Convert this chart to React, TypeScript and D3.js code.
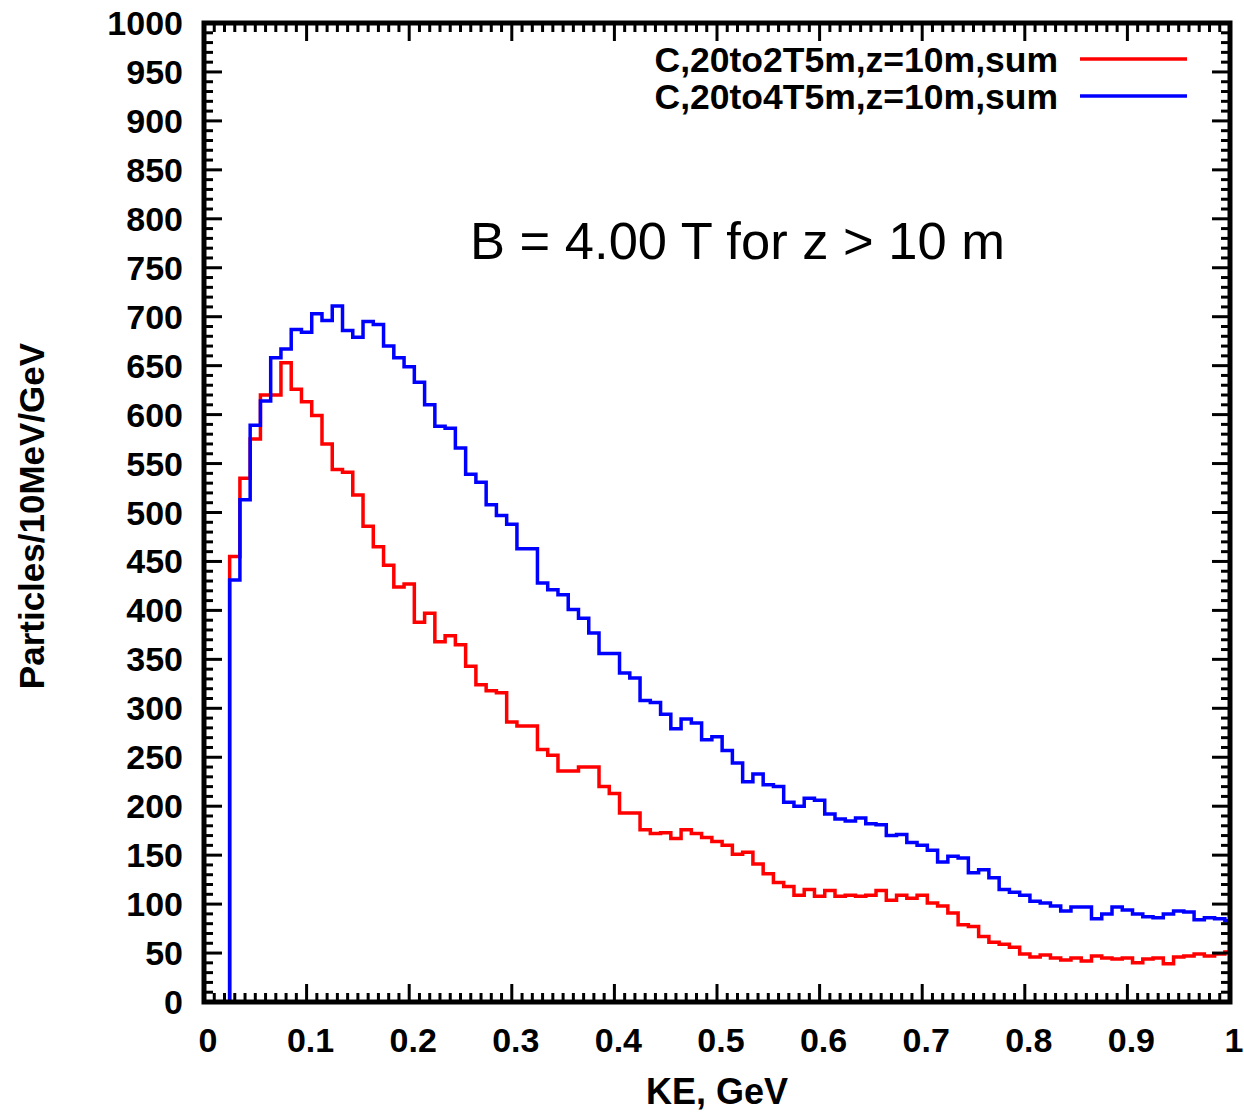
import React from "react";
import * as d3 from "d3";

// Histogram bins: 10 MeV wide, first bin starts at 0.025 GeV
const binStart = 0.025;
const binWidth = 0.01;

const seriesNames = ["C,20to2T5m,z=10m,sum", "C,20to4T5m,z=10m,sum"];
const seriesColors = ["#ff0000", "#0000ff"];

const red2T = [
  455, 535, 575, 620, 620, 653, 626, 613, 599, 570,
  544, 541, 518, 486, 465, 446, 424, 427, 388, 397,
  368, 374, 365, 343, 324, 318, 316, 286, 282, 282,
  258, 252, 236, 236, 240, 240, 220, 213, 193, 193,
  176, 172, 173, 167, 176, 172, 168, 164, 160, 151,
  153, 141, 131, 122, 118, 109, 115, 108, 114, 108,
  109, 108, 109, 114, 104, 109, 106, 109, 101, 98,
  91, 79, 77, 67, 61, 59, 56, 49, 46, 48,
  45, 43, 45, 42, 47, 45, 44, 45, 40, 44,
  45, 39, 46, 47, 49, 47, 49, 51,
];

const blue4T = [
  431, 513, 589, 614, 658, 667, 687, 684, 703, 696,
  711, 686, 679, 695, 692, 670, 658, 649, 633, 610,
  588, 586, 566, 539, 531, 508, 497, 488, 463, 463,
  428, 421, 416, 401, 392, 377, 356, 356, 336, 331,
  308, 306, 294, 279, 289, 285, 268, 271, 257, 244,
  225, 233, 222, 220, 204, 200, 208, 206, 192, 187,
  185, 188, 182, 181, 170, 171, 163, 160, 155, 143,
  149, 147, 132, 135, 127, 115, 112, 109, 103, 101,
  98, 93, 97, 97, 85, 90, 97, 94, 90, 87,
  86, 90, 93, 92, 84, 86, 85, 83,
];

const xTicks = [0, 0.1, 0.2, 0.3, 0.4, 0.5, 0.6, 0.7, 0.8, 0.9, 1];
const xTickLabels = ["0", "0.1", "0.2", "0.3", "0.4", "0.5", "0.6", "0.7", "0.8", "0.9", "1"];
const yTicks = [0, 50, 100, 150, 200, 250, 300, 350, 400, 450, 500, 550, 600, 650, 700, 750, 800, 850, 900, 950, 1000];

const xTitle = "KE, GeV";
const yTitle = "Particles/10MeV/GeV";
const annotation = "B = 4.00 T for z > 10 m";

const W = 1244;
const H = 1113;
const L = 204, R = 1230, T = 23, B = 1002;
const FONT = "'Liberation Sans', Arial, Helvetica, sans-serif";

export default function App() {
  const x = d3.scaleLinear().domain([0, 1]).range([L, R]);
  const y = d3.scaleLinear().domain([0, 1000]).range([B, T]);

  const makePath = (vals: number[]) => {
    const pts: [number, number][] = [[binStart, 0]];
    vals.forEach((v, i) => pts.push([binStart + i * binWidth, v]));
    pts.push([binStart + vals.length * binWidth, vals[vals.length - 1]]);
    const line = d3
      .line<[number, number]>()
      .x((d) => x(d[0]))
      .y((d) => y(d[1]))
      .curve(d3.curveStepAfter);
    return line(pts) || "";
  };

  const xMinor = d3.range(0, 101).map((i) => i / 100);
  const yMinor = d3.range(0, 101).map((i) => i * 10);
  const minorLen = 9;
  const majorLen = 18;
  const tickW = 3;

  const series = [red2T, blue4T];

  return (
    <svg
      width={W}
      height={H}
      style={{ position: "absolute", left: 0, top: 0, background: "#fff" }}
      fontFamily={FONT}
    >
      <rect x={0} y={0} width={W} height={H} fill="#fff" />
      <defs>
        <clipPath id="plotClip">
          <rect x={L} y={T} width={R - L} height={B - T} />
        </clipPath>
      </defs>

      {/* data */}
      <g clipPath="url(#plotClip)">
        {series.map((s, i) => (
          <path
            key={i}
            d={makePath(s)}
            fill="none"
            stroke={seriesColors[i]}
            strokeWidth={3.5}
            strokeLinejoin="miter"
          />
        ))}
      </g>

      {/* ticks */}
      <g stroke="#000" strokeWidth={tickW}>
        {xMinor.map((v, i) => {
          const len = i % 10 === 0 ? majorLen : minorLen;
          return (
            <g key={"xm" + i}>
              <line x1={x(v)} x2={x(v)} y1={B} y2={B - len} />
              <line x1={x(v)} x2={x(v)} y1={T} y2={T + len} />
            </g>
          );
        })}
        {yMinor.map((v, i) => {
          const len = i % 5 === 0 ? majorLen : minorLen;
          return (
            <g key={"ym" + i}>
              <line x1={L} x2={L + len} y1={y(v)} y2={y(v)} />
              <line x1={R} x2={R - len} y1={y(v)} y2={y(v)} />
            </g>
          );
        })}
      </g>

      {/* frame */}
      <rect x={L} y={T} width={R - L} height={B - T} fill="none" stroke="#000" strokeWidth={5} />

      {/* tick labels */}
      <g fontSize={34} fontWeight="bold" fill="#000">
        {yTicks.map((v) => (
          <text key={"yl" + v} x={183} y={y(v) + 12} textAnchor="end">
            {v}
          </text>
        ))}
        {xTicks.map((v, i) => (
          <text key={"xl" + v} x={x(v) + 4} y={1052} textAnchor="middle">
            {xTickLabels[i]}
          </text>
        ))}
      </g>

      {/* axis titles */}
      <text x={717} y={1104} textAnchor="middle" fontSize={36} fontWeight="bold">
        {xTitle}
      </text>
      <text
        transform="translate(44,516) rotate(-90)"
        textAnchor="middle"
        fontSize={35}
        fontWeight="bold"
      >
        {yTitle}
      </text>

      {/* legend */}
      <g fontSize={35.5} fontWeight="bold">
        {seriesNames.map((n, i) => (
          <g key={"lg" + i}>
            <text x={1058} y={72 + i * 37} textAnchor="end">
              {n}
            </text>
            <line
              x1={1080}
              x2={1187}
              y1={59 + i * 37}
              y2={59 + i * 37}
              stroke={seriesColors[i]}
              strokeWidth={3.5}
            />
          </g>
        ))}
      </g>

      {/* annotation */}
      <text x={470} y={259} fontSize={52.5}>
        {annotation}
      </text>
    </svg>
  );
}
